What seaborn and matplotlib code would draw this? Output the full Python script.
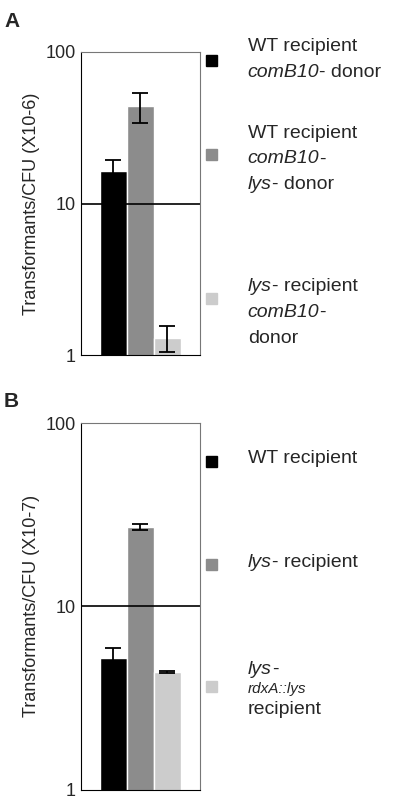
import matplotlib
matplotlib.use("Agg")
import matplotlib.pyplot as plt
import seaborn as sns
import pandas as pd

sns.set_style("white")
plt.rcParams['font.family'] = ['Liberation Sans', 'DejaVu Sans']

cats = ["a", "b", "c"]
colors = ["#000000", "#8c8c8c", "#cccccc"]
valsA = [16.5, 44, 1.3]
errA = [3.0, 10.0, 0.25]
valsB = [5.2, 27, 4.4]
errB = [0.7, 1.0, 0.05]

fig = plt.figure(figsize=(4.03, 8.0), dpi=100)
axA = fig.add_axes([0.201, 0.556, 0.295, 0.379])
axB = fig.add_axes([0.201, 0.013, 0.295, 0.458])

def panel(ax, vals, errs, ylabel):
    df = pd.DataFrame({"c": cats, "v": vals})
    sns.barplot(data=df, x="c", y="v", hue="c", palette=colors, width=1.0,
                legend=False, ax=ax, saturation=1)
    ax.errorbar(range(3), vals, yerr=errs, fmt="none", ecolor="black",
                capsize=6, elinewidth=1.3, capthick=1.3)
    ax.set_yscale("log")
    ax.set_ylim(1, 100)
    ax.set_xlim(-1.2, 3.2)
    ax.axhline(10, color="black", lw=1.2)
    ax.set_yticks([1, 10, 100])
    ax.set_yticklabels(["1", "10", "100"], fontsize=13)
    ax.minorticks_off()
    ax.set_xticks([])
    ax.set_xlabel("")
    ax.set_ylabel(ylabel, fontsize=13)
    for s in ax.spines.values():
        s.set_color("#777777")
    ax.spines["left"].set_color("black")
    ax.spines["bottom"].set_color("black")
    ax.tick_params(axis="y", length=0, pad=4)

panel(axA, valsA, errA, "Transformants/CFU (X10-6)")
panel(axB, valsB, errB, "Transformants/CFU (X10-7)")

fig.text(0.01, 0.985, "A", fontsize=15, fontweight="bold", va="top")
fig.text(0.01, 0.51, "B", fontsize=15, fontweight="bold", va="top")

def sq(x, y, c):
    fig.patches.append(plt.Rectangle((x, y), 0.028, 0.014, color=c,
                                     transform=fig.transFigure, figure=fig))

fs = 14
X = 0.615

def line(y, parts, size=fs):
    # parts: list of (text, italic)
    t = fig.text(X, y, parts[0][0], fontsize=size, va="top",
                 style="italic" if parts[0][1] else "normal")
    for txt, it in parts[1:]:
        t = fig.text(0, 0, txt, fontsize=size, va="top",
                     style="italic" if it else "normal",
                     transform=matplotlib.transforms.offset_copy(
                         t.get_transform(), fig=fig, x=0, y=0))
        t.remove()
        t = plt.annotate(txt, xy=(1, 1), xycoords=prev, va="top",
                         fontsize=size, style="italic" if it else "normal") if False else None
    return

def line(y, parts, size=fs):
    prev = None
    for txt, it in parts:
        st = "italic" if it else "normal"
        if prev is None:
            prev = fig.text(X, y, txt, fontsize=size, va="top", style=st)
        else:
            prev = fig.text(0, 0, txt, fontsize=size, va="top", style=st)
            prev.remove()
            prev = axA.annotate(txt, xy=(1, 1), xycoords=last, va="top",
                                ha="left", fontsize=size, style=st,
                                annotation_clip=False)
        last = prev

# Panel A legend
sq(0.51, 0.917, colors[0])
line(0.952, [("WT recipient", False)])
line(0.920, [("comB10", True), ("- donor", False)])
sq(0.51, 0.800, colors[1])
line(0.844, [("WT recipient", False)])
line(0.812, [("comB10", True), ("-", False)])
line(0.780, [("lys", True), ("- donor", False)])
sq(0.51, 0.620, colors[2])
line(0.652, [("lys", True), ("- recipient", False)])
line(0.620, [("comB10", True), ("-", False)])
line(0.588, [("donor", False)])
# Panel B legend
sq(0.51, 0.416, colors[0])
line(0.438, [("WT recipient", False)])
sq(0.51, 0.287, colors[1])
line(0.308, [("lys", True), ("- recipient", False)])
sq(0.51, 0.135, colors[2])
line(0.174, [("lys", True), ("-", False)])
line(0.148, [("rdxA::lys", True)], size=11)
line(0.124, [("recipient", False)])

fig.savefig("out.png", dpi=100)
